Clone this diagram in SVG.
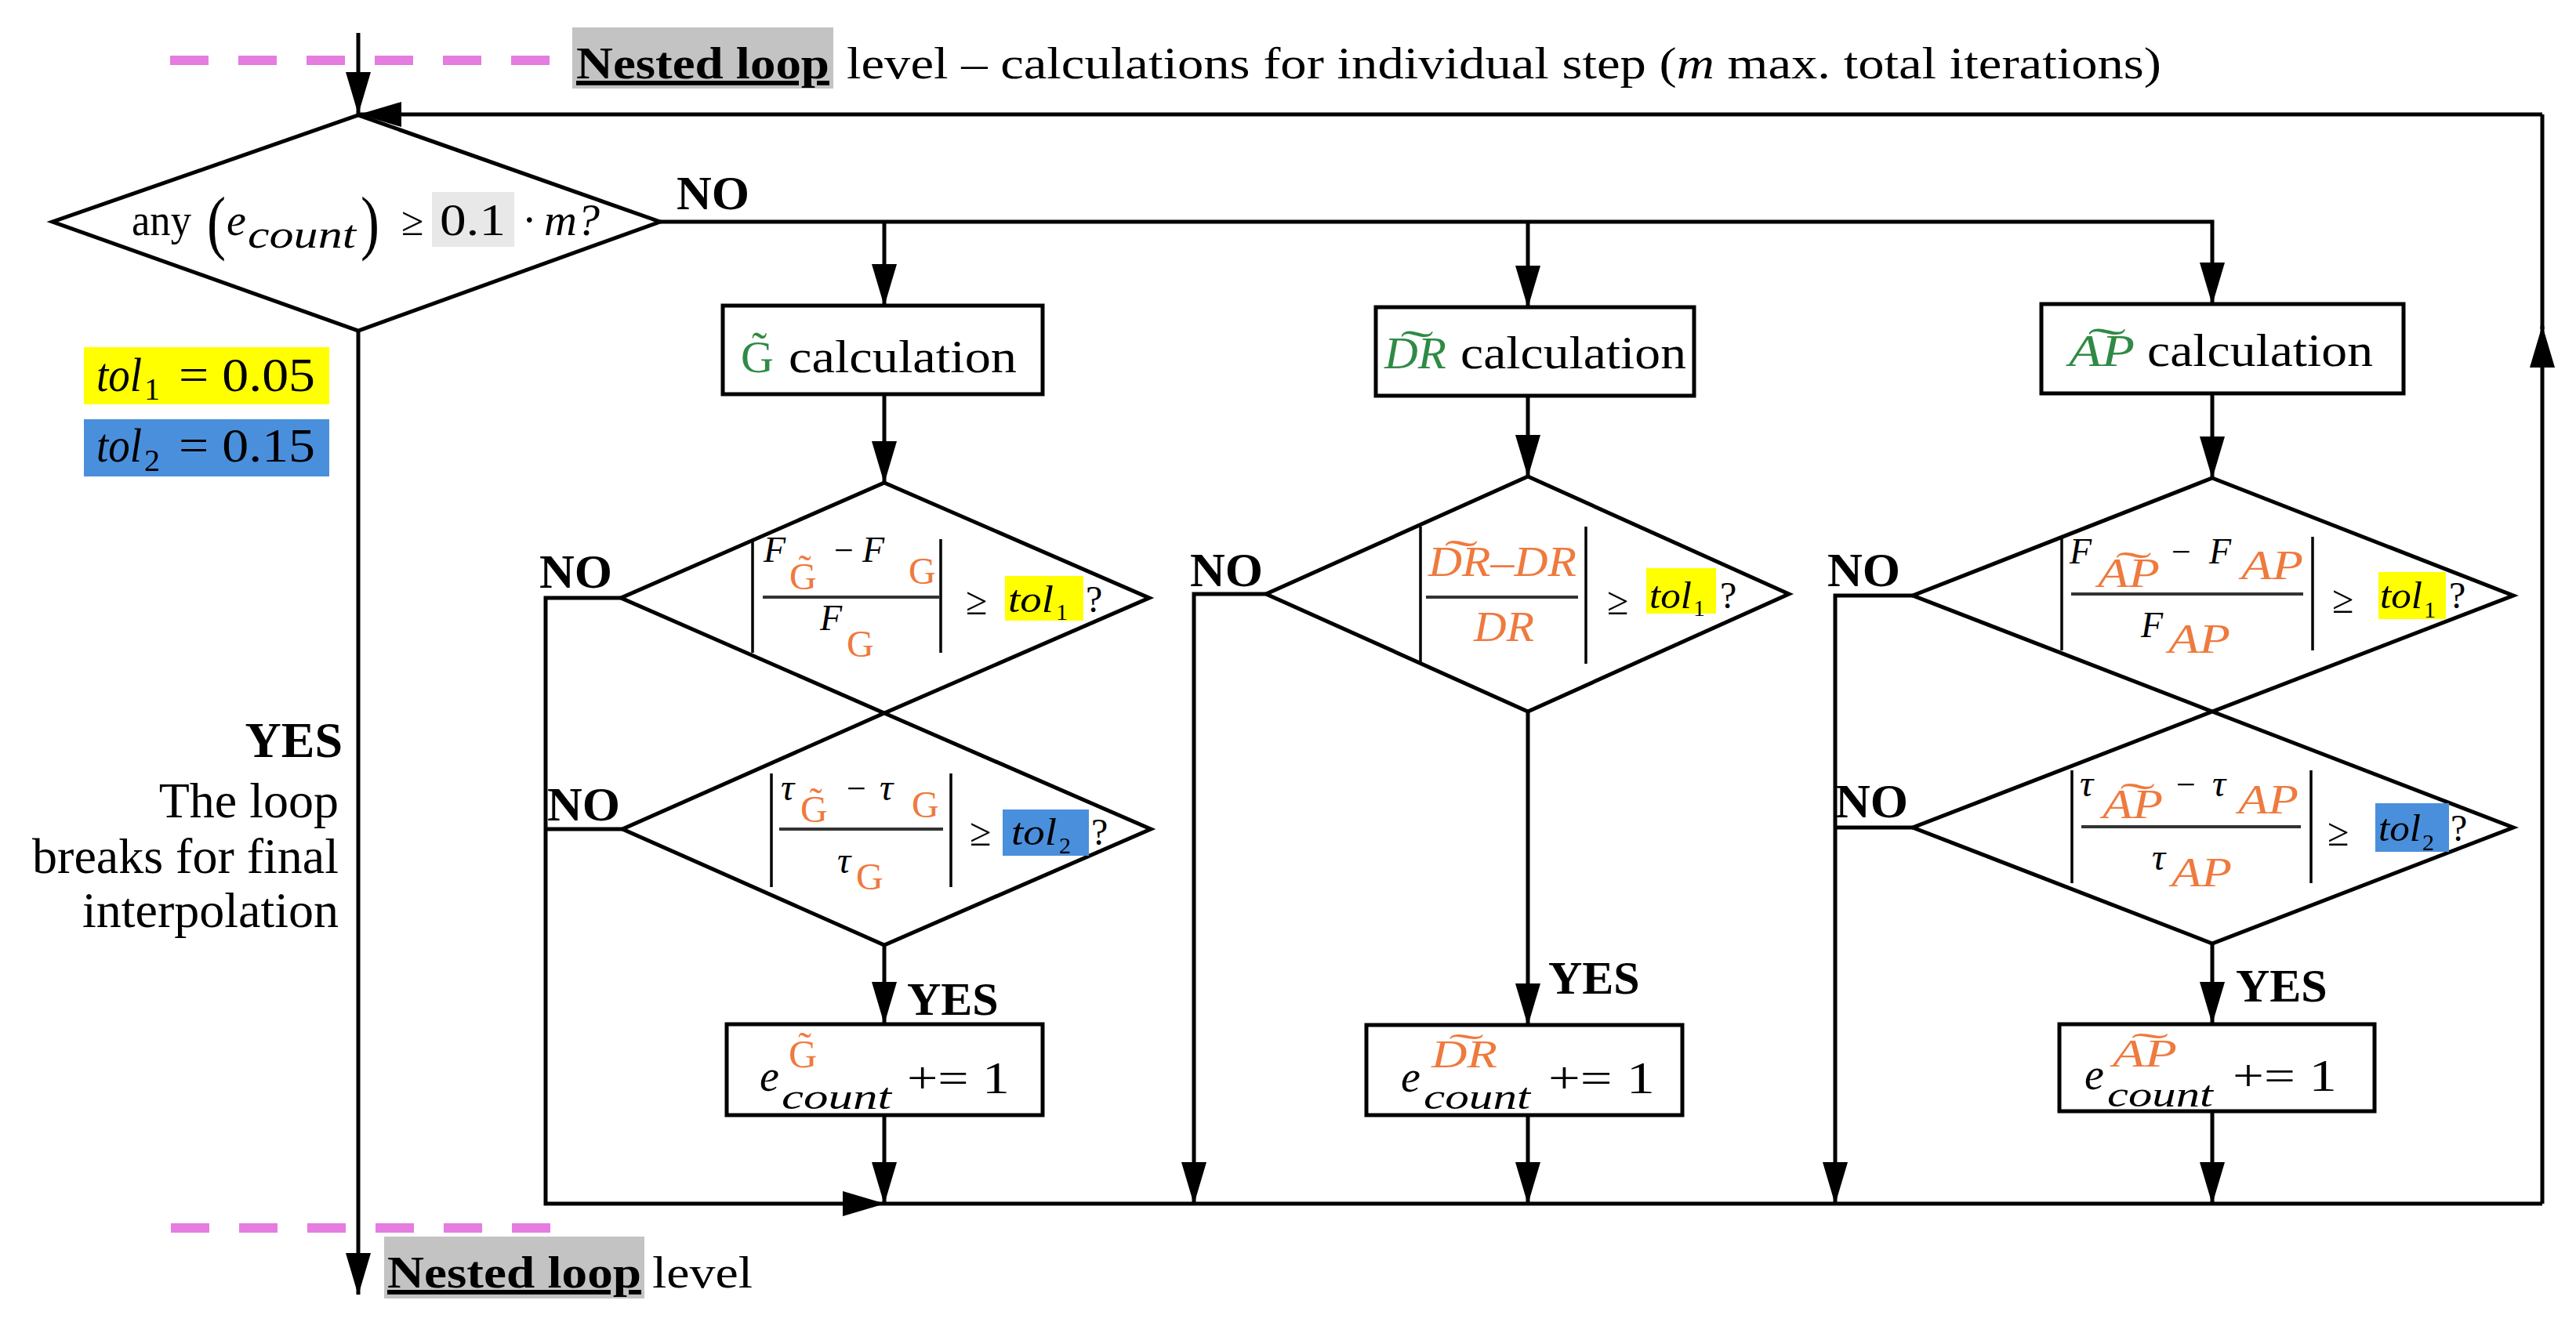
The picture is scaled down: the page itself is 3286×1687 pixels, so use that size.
<svg xmlns="http://www.w3.org/2000/svg" width="3286" height="1687" viewBox="0 0 3286 1687">
<defs>
<style>
.t{font-family:"Liberation Serif",serif;fill:#000}
.b{font-weight:bold}
.i{font-style:italic}
.or{fill:#ee7a3e}
.gr{fill:#2f8a45}
.shape{fill:#fff;stroke:#000;stroke-width:5}
.ln{fill:none;stroke:#000;stroke-width:5}
.bar{stroke:#000;stroke-width:3.5}
.fr{stroke:#333;stroke-width:4}
.dash{stroke:#e57ce0;stroke-width:12;stroke-dasharray:49 38}
</style>
<marker id="ah" markerUnits="userSpaceOnUse" markerWidth="54" markerHeight="32" refX="53" refY="16" orient="auto">
<path d="M0,0 L54,16 L0,32 z" fill="#000"/>
</marker>
</defs>
<rect width="3286" height="1687" fill="#fff"/>

<g id="level-top">
<line class="dash" x1="217" y1="77" x2="705" y2="77"/>
<rect x="730" y="35" width="333" height="78" fill="#c3c3c3"/>
<text class="t b" x="735" y="100" font-size="58" text-decoration="underline" textLength="323" lengthAdjust="spacingAndGlyphs">Nested loop</text>
<text class="t" x="1080" y="100" font-size="58" textLength="1677" lengthAdjust="spacingAndGlyphs">level – calculations for individual step (<tspan class="i">m</tspan> max. total iterations)</text>
</g>
<g id="level-bottom">
<line class="dash" x1="218" y1="1567" x2="705" y2="1567"/>
<rect x="490" y="1578" width="332" height="79" fill="#c3c3c3"/>
<text class="t b" x="494" y="1643" font-size="58" text-decoration="underline" textLength="324" lengthAdjust="spacingAndGlyphs">Nested loop</text>
<text class="t" x="832" y="1643" font-size="58" textLength="128" lengthAdjust="spacingAndGlyphs">level</text>
</g>

<g id="legend">
<rect x="107" y="443" width="313" height="73" fill="#ffff00"/>
<rect x="107" y="535" width="313" height="73" fill="#4a8fdc"/>
<text class="t" font-size="62"><tspan class="i" x="123" y="499" textLength="58" lengthAdjust="spacingAndGlyphs">tol</tspan><tspan x="184" y="510" font-size="40">1</tspan><tspan x="228" y="499" textLength="174" lengthAdjust="spacingAndGlyphs">= 0.05</tspan></text>
<text class="t" font-size="62"><tspan class="i" x="123" y="589" textLength="58" lengthAdjust="spacingAndGlyphs">tol</tspan><tspan x="184" y="601" font-size="40">2</tspan><tspan x="228" y="589" textLength="174" lengthAdjust="spacingAndGlyphs">= 0.15</tspan></text>
</g>

<g id="yes-break">
<text class="t b" x="437" y="966" font-size="64" text-anchor="end">YES</text>
<text class="t" x="432" y="1043" font-size="64" text-anchor="end">The loop</text>
<text class="t" x="432" y="1114" font-size="64" text-anchor="end">breaks for final</text>
<text class="t" x="432" y="1183" font-size="64" text-anchor="end">interpolation</text>
</g>

<g id="connectors">
<path class="ln" d="M457,42 V145" marker-end="url(#ah)"/>
<path class="ln" d="M3243,146 H459" marker-end="url(#ah)"/>
<path class="ln" d="M3243,420 V146"/>
<path class="ln" d="M3243,1536 V416" marker-end="url(#ah)"/>
<path class="ln" d="M457,422 V1652" marker-end="url(#ah)"/>
<path class="ln" d="M842,283 H2822 V388" marker-end="url(#ah)"/>
<path class="ln" d="M1128,283 V390" marker-end="url(#ah)"/>
<path class="ln" d="M1949,283 V392" marker-end="url(#ah)"/>
<path class="ln" d="M1128,503 V616" marker-end="url(#ah)"/>
<path class="ln" d="M1949,505 V608" marker-end="url(#ah)"/>
<path class="ln" d="M2822,502 V610" marker-end="url(#ah)"/>
<path class="ln" d="M1128,1206 V1306" marker-end="url(#ah)"/>
<path class="ln" d="M1949,908 V1308" marker-end="url(#ah)"/>
<path class="ln" d="M2822,1204 V1306" marker-end="url(#ah)"/>
<path class="ln" d="M792,763 H696 V1536 H1128" marker-end="url(#ah)"/>
<path class="ln" d="M794,1058 H696"/>
<path class="ln" d="M1128,1536 H3243"/>
<path class="ln" d="M1128,1423 V1536" marker-end="url(#ah)"/>
<path class="ln" d="M1615,758 H1523 V1536" marker-end="url(#ah)"/>
<path class="ln" d="M1949,1423 V1536" marker-end="url(#ah)"/>
<path class="ln" d="M2440,760 H2341 V1536" marker-end="url(#ah)"/>
<path class="ln" d="M2440,1056 H2341"/>
<path class="ln" d="M2822,1418 V1536" marker-end="url(#ah)"/>
<text class="t b" x="863" y="267" font-size="62">NO</text>
<text class="t b" x="688" y="750" font-size="62">NO</text>
<text class="t b" x="698" y="1047" font-size="62">NO</text>
<text class="t b" x="1518" y="748" font-size="62">NO</text>
<text class="t b" x="2331" y="748" font-size="62">NO</text>
<text class="t b" x="2341" y="1043" font-size="62">NO</text>
<text class="t b" x="1157" y="1295" font-size="60">YES</text>
<text class="t b" x="1975" y="1268" font-size="60">YES</text>
<text class="t b" x="2852" y="1278" font-size="60">YES</text>
</g>

<g id="decision-any">
<polygon class="shape" points="457,147 842,283 457,422 67,283"/>
<rect x="551" y="245" width="105" height="70" fill="#e8e8e8"/>
<text class="t" font-size="56"><tspan x="168" y="300" textLength="76" lengthAdjust="spacingAndGlyphs">any</tspan><tspan x="264" y="314" font-size="90" textLength="24" lengthAdjust="spacingAndGlyphs">(</tspan><tspan class="i" x="289" y="300">e</tspan><tspan class="i" x="316" y="316" font-size="50" textLength="138" lengthAdjust="spacingAndGlyphs">count</tspan><tspan x="460" y="314" font-size="90" textLength="24" lengthAdjust="spacingAndGlyphs">)</tspan><tspan x="512" y="300" font-size="52">≥</tspan><tspan x="561" y="300" textLength="84" lengthAdjust="spacingAndGlyphs">0.1</tspan><tspan x="666" y="300">·</tspan><tspan class="i" x="694" y="300" textLength="71" lengthAdjust="spacingAndGlyphs">m?</tspan></text>
</g>

<g id="calc-G">
<rect class="shape" x="922" y="390" width="408" height="113"/>
<text class="t gr" x="945" y="475" font-size="58">G&#x303;</text>
<text class="t" x="1006" y="475" font-size="60" textLength="291" lengthAdjust="spacingAndGlyphs">calculation</text>
</g>
<g id="check-G-F">
<polygon class="shape" points="1128,616 1466,763 1128,910 792,763"/>
<line class="bar" x1="960" y1="688" x2="960" y2="833"/>
<line class="bar" x1="1200" y1="688" x2="1200" y2="833"/>
<line class="fr" x1="973" y1="762" x2="1198" y2="762"/>
<text class="t" font-size="46"><tspan class="i" x="974" y="717">F</tspan><tspan class="or" x="1007" y="752" font-size="48">G&#x303;</tspan><tspan x="1064" y="717" font-size="44">−</tspan><tspan class="i" x="1100" y="717">F</tspan><tspan class="or" x="1159" y="745" font-size="48">G</tspan></text>
<text class="t" font-size="46"><tspan class="i" x="1046" y="804">F</tspan><tspan class="or" x="1080" y="838" font-size="48">G</tspan></text>
<text class="t" x="1232" y="784" font-size="50">≥</text>
<rect x="1282" y="735" width="100" height="57" fill="#ffff00"/>
<text class="t" font-size="48"><tspan class="i" x="1286" y="781" textLength="58" lengthAdjust="spacingAndGlyphs">tol</tspan><tspan x="1347" y="791" font-size="30">1</tspan><tspan x="1385" y="781">?</tspan></text>
</g>
<g id="check-G-tau">
<polygon class="shape" points="1128,910 1468,1058 1128,1206 794,1058"/>
<line class="bar" x1="984" y1="987" x2="984" y2="1132"/>
<line class="bar" x1="1213" y1="987" x2="1213" y2="1132"/>
<line class="fr" x1="994" y1="1058" x2="1203" y2="1058"/>
<text class="t" font-size="48"><tspan class="i" x="996" y="1021">τ</tspan><tspan class="or" x="1021" y="1049">G&#x303;</tspan><tspan x="1080" y="1021" font-size="44">−</tspan><tspan class="i" x="1122" y="1021">τ</tspan><tspan class="or" x="1163" y="1043">G</tspan></text>
<text class="t" font-size="48"><tspan class="i" x="1068" y="1114">τ</tspan><tspan class="or" x="1092" y="1135">G</tspan></text>
<text class="t" x="1237" y="1079" font-size="50">≥</text>
<rect x="1279" y="1033" width="110" height="59" fill="#4a8fdc"/>
<text class="t" font-size="48"><tspan class="i" x="1290" y="1078" textLength="58" lengthAdjust="spacingAndGlyphs">tol</tspan><tspan x="1351" y="1089" font-size="30">2</tspan><tspan x="1392" y="1078">?</tspan></text>
</g>
<g id="count-G">
<rect class="shape" x="927" y="1307" width="403" height="116"/>
<text class="t" font-size="46"><tspan class="i" x="969" y="1392" font-size="56">e</tspan><tspan class="or" x="1006" y="1362" font-size="50">G&#x303;</tspan><tspan class="i" x="997" y="1415" textLength="140" lengthAdjust="spacingAndGlyphs">count</tspan></text>
<text class="t" x="1157" y="1395" font-size="58" textLength="131" lengthAdjust="spacingAndGlyphs">+= 1</text>
</g>

<g id="calc-DR">
<rect class="shape" x="1755" y="392" width="406" height="113"/>
<text class="t gr i" x="1766" y="470" font-size="58" textLength="79" lengthAdjust="spacingAndGlyphs">D&#x360;R</text>
<text class="t" x="1863" y="470" font-size="60" textLength="288" lengthAdjust="spacingAndGlyphs">calculation</text>
</g>
<g id="check-DR">
<polygon class="shape" points="1949,608 2282,758 1949,908 1615,758"/>
<line class="bar" x1="1812" y1="672" x2="1812" y2="847"/>
<line class="bar" x1="2023" y1="672" x2="2023" y2="847"/>
<line class="fr" x1="1819" y1="762" x2="2013" y2="762"/>
<text class="t i or" x="1822" y="735" font-size="54" textLength="189" lengthAdjust="spacingAndGlyphs">D&#x360;R–DR</text>
<text class="t i or" x="1880" y="818" font-size="54" textLength="77" lengthAdjust="spacingAndGlyphs">DR</text>
<text class="t" x="2050" y="784" font-size="50">≥</text>
<rect x="2100" y="725" width="89" height="58" fill="#ffff00"/>
<text class="t" font-size="48"><tspan class="i" x="2104" y="776" textLength="54" lengthAdjust="spacingAndGlyphs">tol</tspan><tspan x="2160" y="786" font-size="30">1</tspan><tspan x="2194" y="776">?</tspan></text>
</g>
<g id="count-DR">
<rect class="shape" x="1743" y="1308" width="403" height="115"/>
<text class="t i" font-size="46"><tspan x="1787" y="1393" font-size="56">e</tspan><tspan class="or" x="1826" y="1362" font-size="50" textLength="84" lengthAdjust="spacingAndGlyphs">D&#x360;R</tspan><tspan x="1816" y="1415" textLength="136" lengthAdjust="spacingAndGlyphs">count</tspan></text>
<text class="t" x="1975" y="1395" font-size="58" textLength="136" lengthAdjust="spacingAndGlyphs">+= 1</text>
</g>

<g id="calc-AP">
<rect class="shape" x="2604" y="388" width="462" height="114"/>
<text class="t gr i" x="2639" y="467" font-size="58" textLength="84" lengthAdjust="spacingAndGlyphs">A&#x360;P</text>
<text class="t" x="2739" y="467" font-size="60" textLength="288" lengthAdjust="spacingAndGlyphs">calculation</text>
</g>
<g id="check-AP-F">
<polygon class="shape" points="2822,610 3206,760 2822,908 2440,760"/>
<line class="bar" x1="2630" y1="685" x2="2630" y2="830"/>
<line class="bar" x1="2950" y1="685" x2="2950" y2="830"/>
<line class="fr" x1="2642" y1="758" x2="2938" y2="758"/>
<text class="t" font-size="46"><tspan class="i" x="2640" y="719">F</tspan><tspan class="i or" x="2676" y="749" font-size="52" textLength="79" lengthAdjust="spacingAndGlyphs">A&#x360;P</tspan><tspan x="2770" y="719" font-size="44">−</tspan><tspan class="i" x="2818" y="719">F</tspan><tspan class="i or" x="2859" y="739" font-size="52" textLength="79" lengthAdjust="spacingAndGlyphs">AP</tspan></text>
<text class="t" font-size="46"><tspan class="i" x="2731" y="813">F</tspan><tspan class="i or" x="2766" y="833" font-size="52" textLength="79" lengthAdjust="spacingAndGlyphs">AP</tspan></text>
<text class="t" x="2975" y="782" font-size="50">≥</text>
<rect x="3034" y="730" width="86" height="60" fill="#ffff00"/>
<text class="t" font-size="48"><tspan class="i" x="3036" y="776" textLength="54" lengthAdjust="spacingAndGlyphs">tol</tspan><tspan x="3092" y="788" font-size="30">1</tspan><tspan x="3124" y="776">?</tspan></text>
</g>
<g id="check-AP-tau">
<polygon class="shape" points="2822,908 3206,1056 2822,1204 2440,1056"/>
<line class="bar" x1="2643" y1="983" x2="2643" y2="1127"/>
<line class="bar" x1="2948" y1="983" x2="2948" y2="1127"/>
<line class="fr" x1="2655" y1="1055" x2="2935" y2="1055"/>
<text class="t" font-size="48"><tspan class="i" x="2653" y="1016">τ</tspan><tspan class="i or" x="2682" y="1044" font-size="52" textLength="77" lengthAdjust="spacingAndGlyphs">A&#x360;P</tspan><tspan x="2776" y="1016" font-size="44">−</tspan><tspan class="i" x="2822" y="1016">τ</tspan><tspan class="i or" x="2855" y="1038" font-size="52" textLength="77" lengthAdjust="spacingAndGlyphs">AP</tspan></text>
<text class="t" font-size="48"><tspan class="i" x="2745" y="1110">τ</tspan><tspan class="i or" x="2770" y="1131" font-size="52" textLength="77" lengthAdjust="spacingAndGlyphs">AP</tspan></text>
<text class="t" x="2969" y="1079" font-size="50">≥</text>
<rect x="3030" y="1025" width="94" height="62" fill="#4a8fdc"/>
<text class="t" font-size="48"><tspan class="i" x="3034" y="1073" textLength="54" lengthAdjust="spacingAndGlyphs">tol</tspan><tspan x="3090" y="1085" font-size="30">2</tspan><tspan x="3126" y="1073">?</tspan></text>
</g>
<g id="count-AP">
<rect class="shape" x="2627" y="1307" width="402" height="111"/>
<text class="t i" font-size="46"><tspan x="2659" y="1390" font-size="56">e</tspan><tspan class="or" x="2695" y="1361" font-size="50" textLength="82" lengthAdjust="spacingAndGlyphs">A&#x360;P</tspan><tspan x="2688" y="1412" textLength="135" lengthAdjust="spacingAndGlyphs">count</tspan></text>
<text class="t" x="2848" y="1392" font-size="58" textLength="133" lengthAdjust="spacingAndGlyphs">+= 1</text>
</g>
</svg>
